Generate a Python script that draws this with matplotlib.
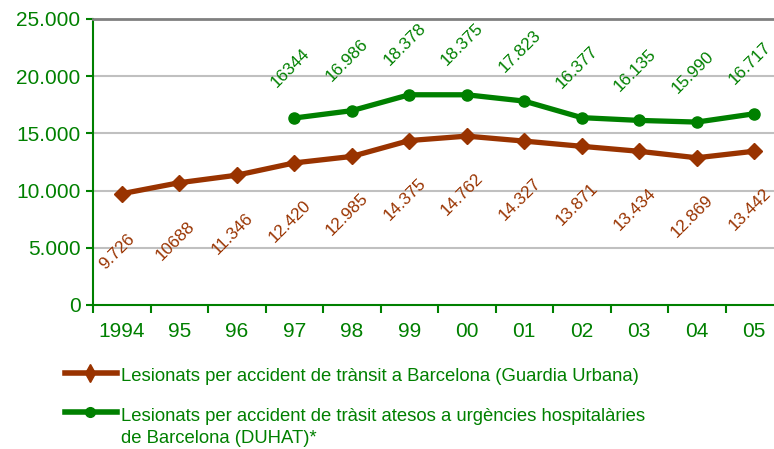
import matplotlib
matplotlib.use("Agg")
from matplotlib import pyplot as plt
from matplotlib.lines import Line2D
from matplotlib.ticker import FuncFormatter

# dades
anys = ["1994", "95", "96", "97", "98", "99", "00", "01", "02", "03", "04", "05"]
guardia_urbana = [9726, 10688, 11346, 12420, 12985, 14375, 14762, 14327, 13871, 13434, 12869, 13442]
gu_etiquetes = ["9.726", "10688", "11.346", "12.420", "12.985", "14.375", "14.762",
                "14.327", "13.871", "13.434", "12.869", "13.442"]
duhat_anys = anys[3:]
duhat = [16344, 16986, 18378, 18375, 17823, 16377, 16135, 15990, 16717]
duhat_etiquetes = ["16344", "16.986", "18.378", "18.375", "17.823", "16.377", "16.135", "15.990", "16.717"]
llegenda_gu = ["Lesionats per accident de trànsit a Barcelona (Guardia Urbana)"]
llegenda_duhat = ["Lesionats per accident de tràsit atesos a urgències hospitalàries",
                  "de Barcelona (DUHAT)*"]

VERD = "#008000"
MARRO = "#993300"

plt.rcParams['font.family'] = ['Liberation Sans', 'DejaVu Sans']

W, H = 774, 449
fig = plt.figure(figsize=(W / 100, H / 100), dpi=100)
ax = fig.add_axes([93 / W, 1 - 305 / H, 690 / W, 286 / H])

x = list(range(len(anys)))
xd = [anys.index(a) for a in duhat_anys]

ax.plot(x, guardia_urbana, color=MARRO, lw=3.8, marker="D", ms=8, zorder=3)
ax.plot(xd, duhat, color=VERD, lw=3.8, marker="o", ms=8, zorder=3)

# etiquetes girades 45 graus
for xi, yi, t in zip(x, guardia_urbana, gu_etiquetes):
    ax.annotate(t, (xi, yi), xytext=(-3, -42), textcoords="offset points", rotation=45,
                ha="center", va="center", color=MARRO, fontsize=12.3)
for xi, yi, t in zip(xd, duhat, duhat_etiquetes):
    ax.annotate(t, (xi, yi), xytext=(-3, 36), textcoords="offset points", rotation=45,
                ha="center", va="center", color=VERD, fontsize=12.3)

ax.set_xlim(-0.5, len(anys) - 0.5)
ax.set_ylim(0, 25000)
ax.set_yticks(range(0, 25001, 5000))
ax.yaxis.set_major_formatter(FuncFormatter(lambda v, p: f"{int(v):,}".replace(",", ".")))
ax.set_xticks([i - 0.5 for i in range(len(anys) + 1)])
ax.set_xticklabels([])
ax.set_xticks(x, minor=True)
ax.set_xticklabels(anys, minor=True)
ax.tick_params(axis="x", which="minor", length=0, labelsize=15, labelcolor=VERD, pad=12)
ax.tick_params(axis="x", which="major", length=6, width=1.5, color=VERD)
ax.tick_params(axis="y", length=5, width=1.5, color=VERD, labelsize=15, labelcolor=VERD, pad=4)

for v in range(5000, 25000, 5000):
    ax.axhline(v, color="#c0c0c0", lw=1.5, zorder=1)
ax.spines["top"].set_color("#808080")
ax.spines["top"].set_linewidth(2)
ax.spines["right"].set_visible(False)
ax.spines["left"].set_color(VERD)
ax.spines["bottom"].set_color(VERD)
ax.spines["left"].set_linewidth(1.5)
ax.spines["bottom"].set_linewidth(1.5)

# llegenda feta a mà, sota el gràfic
for ly, col, mk, ms, linies, y0 in [(373, MARRO, "d", 9, llegenda_gu, 381),
                                    (412, VERD, "o", 7, llegenda_duhat, 421)]:
    fig.add_artist(Line2D([65 / W, 117 / W], [1 - ly / H, 1 - ly / H], color=col, lw=4,
                          transform=fig.transFigure))
    fig.add_artist(Line2D([90 / W], [1 - ly / H], color=col, marker=mk, ms=ms,
                          transform=fig.transFigure))
    for i, txt in enumerate(linies):
        fig.text(121 / W, 1 - (y0 + 22 * i) / H, txt, color=VERD, fontsize=13.3,
                 ha="left", va="baseline")

fig.savefig("out.png", dpi=100)
